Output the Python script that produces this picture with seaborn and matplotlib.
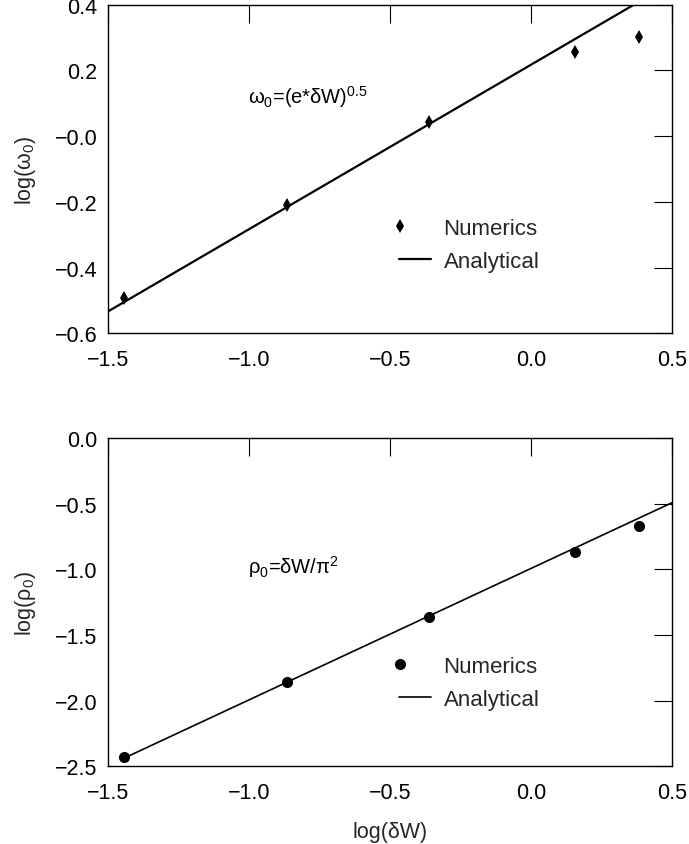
import numpy as np
import pandas as pd
import matplotlib
matplotlib.use("Agg")
import matplotlib.pyplot as plt
from matplotlib.legend_handler import HandlerLine2DCompound
from matplotlib.ticker import FixedLocator, FixedFormatter
import seaborn as sns

# Numerical results, log10 scale
log_dW = [-1.444, -0.867, -0.362, 0.156, 0.385]
log_omega_num = [-0.494, -0.209, 0.042, 0.255, 0.301]
log_rho_num = [-2.430, -1.859, -1.360, -0.870, -0.672]

# Analytical curves (end points of straight lines in log-log)
omega_line_x = [-1.5, 0.5]
omega_line_y = [-0.533, 0.467]
rho_line_x = [-1.444, 0.5]
rho_line_y = [-2.438, -0.494]

xticks = [-1.5, -1.0, -0.5, 0.0, 0.5]
xticklabels = ["\u22121.5", "\u22121.0", "\u22120.5", "0.0", "0.5"]
omega_yticks = [-0.6, -0.4, -0.2, 0.0, 0.2, 0.4]
omega_yticklabels = ["\u22120.6", "\u22120.4", "\u22120.2", "\u22120.0", "0.2", "0.4"]
rho_yticks = [-2.5, -2.0, -1.5, -1.0, -0.5, 0.0]
rho_yticklabels = ["\u22122.5", "\u22122.0", "\u22121.5", "\u22121.0", "\u22120.5", "0.0"]

sns.set_theme(style="white")
plt.rcParams["font.family"] = ["Liberation Sans", "DejaVu Sans"]
plt.rcParams["mathtext.fontset"] = "custom"
plt.rcParams["mathtext.rm"] = "Liberation Sans"
plt.rcParams["mathtext.it"] = "Liberation Sans:italic"
plt.rcParams["mathtext.default"] = "regular"

TICK_FS = 15.5
LEG_FS = 16
ANN_FS = 14.5


class LeftMarkerHandler(HandlerLine2DCompound):
    """Place the legend marker at the left end of the handle box."""

    def get_xdata(self, legend, xdescent, ydescent, width, height, fontsize):
        xdata = [-xdescent, -xdescent + width]
        return xdata, [-xdescent + 0.04 * width]


fig = plt.figure(figsize=(6.89, 8.45), dpi=100)
ax_top = fig.add_axes([0.1572, 0.6044, 0.8177, 0.3889])
ax_bot = fig.add_axes([0.1572, 0.0920, 0.8177, 0.3885])

df_num = pd.DataFrame({"x": log_dW, "omega": log_omega_num, "rho": log_rho_num})
df_om = pd.DataFrame({"x": omega_line_x, "y": omega_line_y})
df_rho = pd.DataFrame({"x": rho_line_x, "y": rho_line_y})


def style_axes(ax, yticks, yticklabels, ylim):
    ax.set_xlim(-1.5, 0.5)
    ax.set_ylim(*ylim)
    ax.xaxis.set_major_locator(FixedLocator(xticks))
    ax.xaxis.set_major_formatter(FixedFormatter(xticklabels))
    ax.yaxis.set_major_locator(FixedLocator(yticks))
    ax.yaxis.set_major_formatter(FixedFormatter(yticklabels))
    ax.tick_params(axis="both", which="major", direction="in", length=13,
                   width=0.8, color="black", top=True, right=True,
                   labelsize=TICK_FS, labelcolor="black")
    ax.tick_params(axis="x", pad=11)
    ax.tick_params(axis="y", pad=8)
    for sp in ax.spines.values():
        sp.set_visible(True)
        sp.set_color("black")
        sp.set_linewidth(1.0)
    ax.set_facecolor("white")


def add_legend(ax, anchor_y):
    h, l = ax.get_legend_handles_labels()
    ax.legend(h, l, loc="center left", bbox_to_anchor=(0.516, anchor_y),
              frameon=False, fontsize=LEG_FS, borderpad=0, borderaxespad=0,
              handlelength=1.45, handletextpad=0.55, labelspacing=0.54,
              handler_map={h[0]: LeftMarkerHandler()})


# Top panel: frequency
sns.lineplot(data=df_num, x="x", y="omega", ax=ax_top, marker="d",
             linestyle="none", color="black", markersize=7.2,
             markeredgewidth=0, label="Numerics", sort=False, estimator=None)
sns.lineplot(data=df_om, x="x", y="y", ax=ax_top, color="black",
             linewidth=1.6, label="Analytical", sort=False, estimator=None)
style_axes(ax_top, omega_yticks, omega_yticklabels, (-0.6, 0.4))
ax_top.set_xlabel("")
ax_top.set_ylabel("log(\u03c9$_0$)", fontsize=TICK_FS, labelpad=12)
ax_top.text(0.248, 0.701, "\u03c9$_0$=(e*\u03b4W)$^{0.5}$", transform=ax_top.transAxes,
            fontsize=ANN_FS, ha="left", va="baseline", color="black")
add_legend(ax_top, 0.268)

# Bottom panel: amplitude
sns.lineplot(data=df_num, x="x", y="rho", ax=ax_bot, marker="o",
             linestyle="none", color="black", markersize=8,
             markeredgewidth=0, label="Numerics", sort=False, estimator=None)
sns.lineplot(data=df_rho, x="x", y="y", ax=ax_bot, color="black",
             linewidth=1.2, label="Analytical", sort=False, estimator=None)
style_axes(ax_bot, rho_yticks, rho_yticklabels, (-2.5, 0.0))
ax_bot.set_xlabel("log(\u03b4W)", fontsize=TICK_FS, labelpad=13)
ax_bot.set_ylabel("log(\u03c1$_0$)", fontsize=TICK_FS, labelpad=12)
ax_bot.text(0.248, 0.589, "\u03c1$_0$=\u03b4W/\u03c0$^2$", transform=ax_bot.transAxes,
            fontsize=ANN_FS, ha="left", va="baseline", color="black")
add_legend(ax_bot, 0.253)

fig.savefig("out.png", dpi=100, facecolor="white")
